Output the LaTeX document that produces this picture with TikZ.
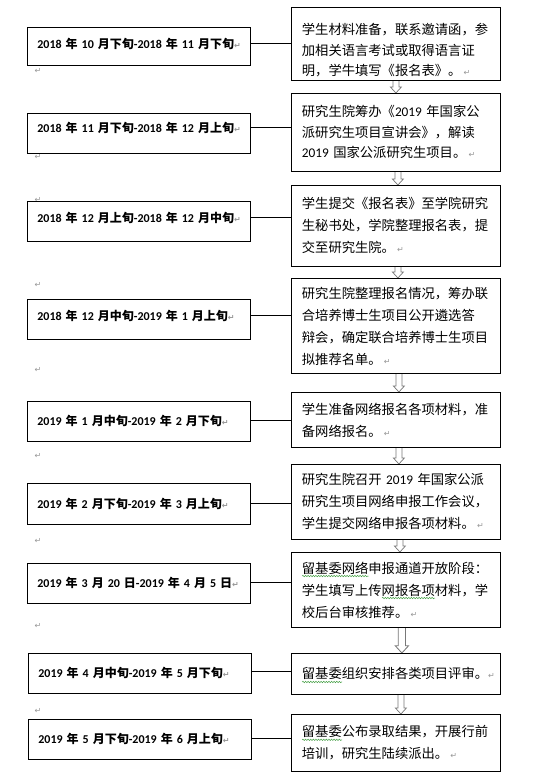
\documentclass[tikz,border=0pt]{standalone}
\usepackage{fontspec}
\usepackage{xcolor}
\usetikzlibrary{calc,backgrounds,decorations.pathmorphing}
\setmainfont{Noto Sans CJK SC}
\newfontfamily\markfont{DejaVu Sans}
\newfontfamily\latin{Carlito}
\definecolor{markgray}{RGB}{150,150,150}
\definecolor{wavegreen}{RGB}{70,160,70}
\definecolor{arrowgray}{RGB}{120,120,120}
\newcommand{\nm}[1]{{\latin #1}}
\newcommand{\retmark}{{\markfont\fontsize{8}{8}\selectfont\textcolor{markgray}{↵}}}
\newcommand{\dt}[2]{\mbox{\rule[-#1pt]{0pt}{0pt}#2\retmark}}
\newcommand{\spellwave}[1]{\setbox0\hbox{#1}\rlap{\smash{\tikz[baseline=0pt]\draw[wavegreen, line width=0.5pt, decorate, decoration={snake, amplitude=0.7pt, segment length=2.6pt}] (0pt,-3pt) -- (\wd0,-3pt);}}\box0}

\begin{document}
\begin{tikzpicture}[x=1pt, y=-1pt,
  datebox/.style={draw, line width=0.8pt, fill=white, anchor=north west, minimum width=223pt, minimum height=40pt, text width=203pt, inner xsep=10pt, align=left, font=\fontsize{12}{14}\selectfont\bfseries},
  stepbox/.style={draw, line width=0.8pt, fill=white, anchor=north west, minimum width=209pt, text width=188pt, inner xsep=10.5pt, align=left, font=\fontsize{13.3}{22}\selectfont},
  tight/.style={font=\fontsize{13.3}{20.5}\selectfont},
  link/.style={line width=0.8pt},
  retnode/.style={inner sep=0pt},
  hollow/.style={draw=arrowgray, fill=white, line width=#1*0.7pt, to path={
    let \p1=(\tikztostart), \p2=(\tikztotarget) in
    ({\x1-3pt*#1},\y1) -- ({\x1-3pt*#1},{\y2+6pt*#1}) -- ({\x1-5.5pt*#1},{\y2+6pt*#1}) -- (\x1,\y2)
    -- ({\x1+5.5pt*#1},{\y2+6pt*#1}) -- ({\x1+3pt*#1},{\y2+6pt*#1}) -- ({\x1+3pt*#1},\y1)}},
  hollow/.default=1]
\useasboundingbox (0,0) rectangle (557,781);

% paragraph marks left of the column
\foreach \y [count=\k] in {71,157,200,241,285,370,456,541,626,711}
  \node[retnode] (ret\k) at (38,\y) {\retmark};

% dates
\node[datebox, minimum height=38pt] (d1) at (27,27) {\dt{6}{\nm{2018\ }年\nm{\ 10\ }月下旬\nm{-2018\ }年\nm{\ 11\ }月下旬}};
\node[datebox] (d2) at (27,113) {\dt{13}{\nm{2018\ }年\nm{\ 11\ }月下旬\nm{-2018\ }年\nm{\ 12\ }月上旬}};
\node[datebox] (d3) at (27,201) {\dt{9}{\nm{2018\ }年\nm{\ 12\ }月上旬\nm{-2018\ }年\nm{\ 12\ }月中旬}};
\node[datebox] (d4) at (27,299) {\dt{9}{\nm{2018\ }年\nm{\ 12\ }月中旬\nm{-2019\ }年\nm{\ 1\ }月上旬}};
\node[datebox] (d5) at (27,401) {\dt{0}{\nm{2019\ }年\nm{\ 1\ }月中旬\nm{-2019\ }年\nm{\ 2\ }月下旬}};
\node[datebox, minimum height=41pt] (d6) at (27,483) {\dt{0}{\nm{2019\ }年\nm{\ 2\ }月下旬\nm{-2019\ }年\nm{\ 3\ }月上旬}};
\node[datebox] (d7) at (27,563) {\dt{0}{\nm{2019\ }年\nm{\ 3\ }月\nm{\ 20\ }日\nm{-2019\ }年\nm{\ 4\ }月\nm{\ 5\ }日}};
\node[datebox] (d8) at (28,653) {\dt{3}{\nm{2019\ }年\nm{\ 4\ }月中旬\nm{-2019\ }年\nm{\ 5\ }月下旬}};
\node[datebox] (d9) at (28,719) {\dt{0}{\nm{2019\ }年\nm{\ 5\ }月下旬\nm{-2019\ }年\nm{\ 6\ }月上旬}};

% steps
\node[stepbox, tight, minimum height=73pt] (s1) at (291,7) {\rule{0pt}{24pt}学生材料准备，联系邀请函，参\\加相关语言考试或取得语言证\\明，学牛填写《报名表》。\,\retmark};
\node[stepbox, tight, minimum height=78pt] (s2) at (291,93) {研究生院筹办《\nm{2019} 年国家公\\派研究生项目宣讲会》，解读\\\nm{2019} 国家公派研究生项目。\,\retmark};
\node[stepbox, minimum height=81pt] (s3) at (291,185) {学生提交《报名表》至学院研究\\生秘书处，学院整理报名表，提\\交至研究生院。\,\retmark};
\node[stepbox, minimum height=95pt] (s4) at (291,278) {研究生院整理报名情况，筹办联\\合培养博士生项目公开遴选答\\辩会，确定联合培养博士生项目\\拟推荐名单。\,\retmark};
\node[stepbox, minimum height=55pt] (s5) at (291,392) {学生准备网络报名各项材料，准\\备网络报名。\,\retmark};
\node[stepbox, minimum height=75pt] (s6) at (291,464) {研究生院召开 \nm{2019} 年国家公派\\研究生项目网络申报工作会议，\\学生提交网络申报各项材料。\,\retmark};
\node[stepbox, minimum height=75pt] (s7) at (291,552) {\spellwave{留基委网络}申报通道开放阶段：\\学生填写上传\spellwave{网报各项}材料，学\\校后台审核推荐。\,\retmark};
\node[stepbox, minimum height=41pt] (s8) at (291,653) {\spellwave{留基委}组织安排各类项目评审。\rlap{\retmark}};
\node[stepbox, minimum height=57pt] (s9) at (291,714) {\spellwave{留基委}公布录取结果，开展行前\\培训，研究生陆续派出。\,\retmark};

% date -> step
\foreach \i/\d in {1/3,2/6,3/4,4/4,5/1.5,6/0.5,7/1,8/2,9/1}
  \draw[link] ([yshift=\d pt]d\i.east) -- ([yshift=\d pt]d\i.east -| s\i.west);

% step -> step
\begin{scope}[on background layer]
\foreach \i/\j/\dx in {1/2/0,2/3/2,3/4/2,4/5/3,5/6/3,6/7/4,8/9/5}
  \draw[hollow] ([xshift=\dx pt]s\i.south) to ([xshift=\dx pt]s\j.north);
\draw[hollow=1.2] ([xshift=6pt]s7.south) to ([xshift=6pt]s8.north);
\end{scope}
\end{tikzpicture}
\end{document}
